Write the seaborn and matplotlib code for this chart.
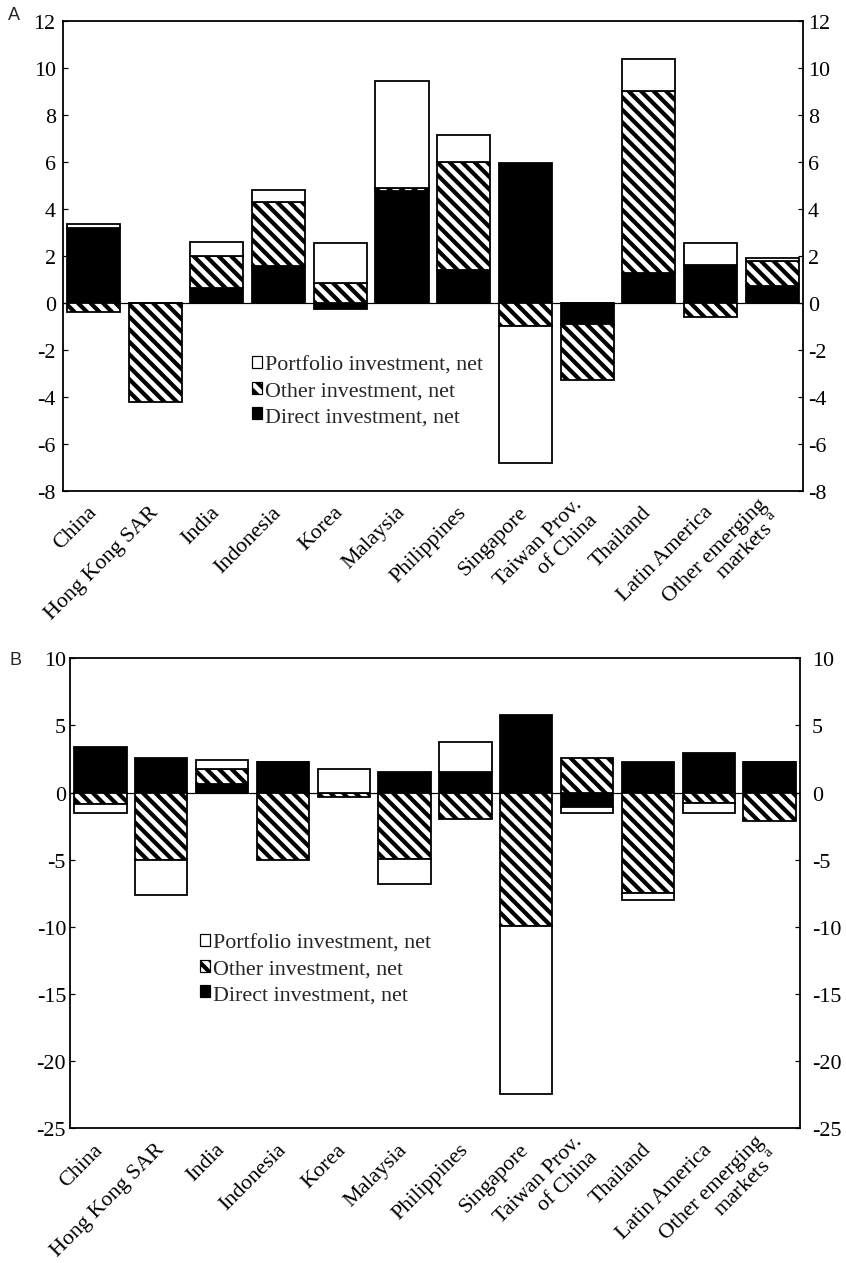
import numpy as np
import matplotlib
matplotlib.use("Agg")
import matplotlib.pyplot as plt
from matplotlib.patches import Patch
from matplotlib.transforms import ScaledTranslation
import seaborn as sns

categories = ["China", "Hong Kong SAR", "India", "Indonesia", "Korea", "Malaysia",
              "Philippines", "Singapore", "Taiwan Prov.\nof China", "Thailand",
              "Latin America", "Other emerging\nmarkets $^{\\mathrm{a}}$"]

# Panel A
direct_a = [3.2, 0.0, 0.65, 1.55, -0.25, 4.75, 1.4, 5.95, -0.9, 1.25, 1.6, 0.7]
other_a = [-0.4, -4.2, 1.35, 2.75, 0.85, 0.15, 4.6, -1.0, -2.4, 7.75, -0.6, 1.1]
portfolio_a = [0.15, 0.0, 0.6, 0.5, 1.7, 4.55, 1.15, -5.8, 0.0, 1.35, 0.95, 0.1]

# Panel B
direct_b = [3.4, 2.6, 0.65, 2.25, 0.0, 1.5, 1.55, 5.8, -1.1, 2.3, 2.95, 2.3]
other_b = [-0.85, -5.05, 1.1, -5.05, -0.35, -4.95, -2.0, -9.95, 2.6, -7.45, -0.8, -2.1]
portfolio_b = [-0.65, -2.6, 0.65, 0.0, 1.75, -1.85, 2.25, -12.5, -0.45, -0.55, -0.75, 0.0]

legend_labels = ["Portfolio investment, net", "Other investment, net", "Direct investment, net"]
yticks_a = list(range(-8, 13, 2))
yticks_b = list(range(-25, 11, 5))

DPI = 75
def px(v):
    return v * 72.0 / DPI

sns.set_theme(style="ticks")
plt.rcParams["font.family"] = ["Liberation Serif", "DejaVu Serif"]
plt.rcParams["mathtext.fontset"] = "custom"
plt.rcParams["mathtext.rm"] = "Liberation Serif"
plt.rcParams["axes.unicode_minus"] = False
plt.rcParams["hatch.linewidth"] = px(4.2)
plt.rcParams["hatch.color"] = "black"

fig = plt.figure(figsize=(846 / DPI, 1264 / DPI), dpi=DPI)
fig.patch.set_facecolor("white")

axA = fig.add_axes([62.7 / 846, 1 - 492 / 1264, (803 - 62.7) / 846, (492 - 21.7) / 1264])
axB = fig.add_axes([70.0 / 846, 1 - 1129.3 / 1264, (800 - 70.0) / 846, (1129.3 - 659.3) / 1264])

HATCH = "\\\\"
styles = [dict(color="black", hatch=None),
          dict(color="white", hatch=HATCH),
          dict(color="white", hatch=None)]


def draw(ax, layers, ylim, yticks, lpad, rpad):
    pos = np.zeros(len(categories))
    neg = np.zeros(len(categories))
    for vals, st in zip(layers, styles):
        v = np.asarray(vals, dtype=float)
        bottom = np.where(v >= 0, pos, neg)
        kw = dict(edgecolor="black", linewidth=px(1.8))
        if st["hatch"]:
            kw["hatch"] = st["hatch"]
        sns.barplot(x=categories, y=v, order=categories, color=st["color"], saturation=1,
                    width=0.86, errorbar=None, ax=ax, bottom=bottom, **kw)
        pos = np.where(v >= 0, pos + v, pos)
        neg = np.where(v < 0, neg + v, neg)
    ax.axhline(0, color="black", linewidth=px(1.2), zorder=0.5)
    ax.set_xlim(-0.5, len(categories) - 0.5)
    ax.set_ylim(*ylim)
    ax.set_yticks(yticks)
    ax.set_yticklabels([str(t) for t in yticks])
    ax.set_xlabel("")
    ax.set_ylabel("")
    ax.tick_params(axis="y", direction="in", length=px(5), width=px(1.2), left=True, right=True,
                   labelleft=True, labelright=True, labelsize=px(22), pad=px(lpad), colors="black")
    ax.tick_params(axis="x", length=0, pad=px(18), labelsize=px(22), colors="black")
    plt.setp(ax.get_xticklabels(), rotation=45, ha="right", va="center", rotation_mode="anchor")
    for s in ax.spines.values():
        s.set_visible(True)
        s.set_linewidth(px(1.8))
        s.set_color("black")
    ax.set_facecolor("white")
    shift = ScaledTranslation((rpad - lpad) / DPI, 0, fig.dpi_scale_trans)
    for t in ax.yaxis.get_major_ticks():
        t.label2.set_transform(t.label2.get_transform() + shift)


draw(axA, [direct_a, other_a, portfolio_a], (-8, 12), yticks_a, 7, 5)
draw(axB, [direct_b, other_b, portfolio_b], (-25, 10), yticks_b, 4, 12)

handles = [Patch(facecolor="white", edgecolor="black", linewidth=px(1.2)),
           Patch(facecolor="white", edgecolor="black", hatch=HATCH, linewidth=px(1.2)),
           Patch(facecolor="black", edgecolor="black", linewidth=px(1.2))]

for ax, (lx, ly) in [(axA, (252, 357)), (axB, (200, 935))]:
    ax.legend(handles, legend_labels, loc="upper left",
              bbox_to_anchor=(lx / 846, 1 - ly / 1264), bbox_transform=fig.transFigure,
              frameon=False, fontsize=px(22), handlelength=0.45, handleheight=0.45,
              handletextpad=0.15, labelspacing=0.3, borderpad=0, borderaxespad=0)

fig.text(14 / 846, 1 - 15 / 1264, "A", family="Liberation Sans", fontsize=px(18),
         ha="center", va="center")
fig.text(15 / 846, 1 - 661 / 1264, "B", family="Liberation Sans", fontsize=px(18),
         ha="center", va="center")

fig.savefig("out.png", dpi=DPI, facecolor="white")
